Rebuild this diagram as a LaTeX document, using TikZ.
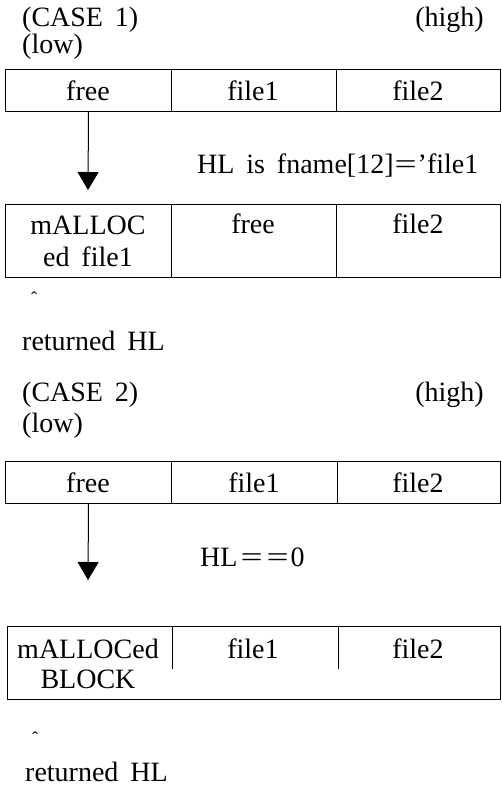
\documentclass[tikz,border=0pt]{standalone}
\usepackage{fontspec}
\usepackage{graphicx}
\setmainfont[WordSpace=1.7]{Liberation Serif}
\usetikzlibrary{arrows.meta}
\newcommand{\weq}{\scalebox{1.4}[1]{=}}
\begin{document}
\begin{tikzpicture}[x=1pt,y=-1pt,
  txt/.style={font=\fontsize{28}{32}\selectfont, inner sep=0pt},
  caretlbl/.style={font=\fontsize{18}{20}\selectfont, inner sep=0pt, anchor=base},
  cell/.style={draw, line width=1pt, inner sep=0pt, anchor=north west},
  arr/.style={line width=1pt, -{Triangle[width=21pt,length=18pt]}}]
\useasboundingbox (0,0) rectangle (501,787);
% ---------------- CASE 1 ----------------
\node[txt, anchor=base west] (case1) at (22,26) {(CASE 1)};
\node[txt, anchor=base east] (high1) at (484,26) {(high)};
\node[txt, anchor=base west] (low1) at (22,53) {(low)};
% top memory row
\node[cell, minimum width=166pt, minimum height=42pt] (a1) at (5,69) {};
\node[cell, minimum width=165pt, minimum height=42pt] (a2) at (171,69) {};
\node[cell, minimum width=164pt, minimum height=42pt] (a3) at (336,69) {};
\node[txt, anchor=base] (ta1) at (88,100) {free};
\node[txt, anchor=base] (ta2) at (253,100) {file1};
\node[txt, anchor=base] (ta3) at (418,100) {file2};
\coordinate (tip1) at (88,190);
\draw[arr] (a1.south) -- (tip1);
\node[txt, anchor=base west] (hl1) at (197,173) {HL is fname[12]\kern1pt\weq\kern1pt'file1};
% second row
\node[cell, minimum width=166pt, minimum height=73pt] (b1) at (5,204) {};
\node[cell, minimum width=165pt, minimum height=73pt] (b2) at (171,204) {};
\node[cell, minimum width=164pt, minimum height=73pt] (b3) at (336,204) {};
\node[txt, anchor=base] (tb1a) at (88,234) {mALLOC};
\node[txt, anchor=base] (tb1b) at (88,266) {ed file1};
\node[txt, anchor=base] (tb2) at (253,233) {free};
\node[txt, anchor=base] (tb3) at (418,233) {file2};
\node[caretlbl] (car1) at (34,304) {ˆ};
\node[txt, anchor=base west] (ret1) at (22,350) {returned HL};
% ---------------- CASE 2 ----------------
\node[txt, anchor=base west] (case2) at (22,401) {(CASE 2)};
\node[txt, anchor=base east] (high2) at (484,401) {(high)};
\node[txt, anchor=base west] (low2) at (22,432) {(low)};
\node[cell, minimum width=166pt, minimum height=42pt] (c1) at (5,461) {};
\node[cell, minimum width=166pt, minimum height=42pt] (c2) at (171,461) {};
\node[cell, minimum width=163pt, minimum height=42pt] (c3) at (337,461) {};
\node[txt, anchor=base] (tc1) at (88,492) {free};
\node[txt, anchor=base] (tc2) at (254,492) {file1};
\node[txt, anchor=base] (tc3) at (418,492) {file2};
\coordinate (tip2) at (88,580);
\draw[arr] (c1.south) -- (tip2);
\node[txt, anchor=base west] (hl2) at (200,566) {HL\kern3pt\weq\kern4pt\weq\kern2pt0};
% bottom row
\node[cell, minimum width=493pt, minimum height=73pt] (d) at (7,626) {};
\draw[line width=1pt] (172,626) -- (172,669);
\draw[line width=1pt] (338,626) -- (338,669);
\node[txt, anchor=base] (td1a) at (88,658) {mALLOCed};
\node[txt, anchor=base] (td1b) at (88,688) {BLOCK};
\node[txt, anchor=base] (td2) at (253,658) {file1};
\node[txt, anchor=base] (td3) at (418,658) {file2};
\node[caretlbl] (car2) at (35,744) {ˆ};
\node[txt, anchor=base west] (ret2) at (25,781) {returned HL};
\end{tikzpicture}
\end{document}
